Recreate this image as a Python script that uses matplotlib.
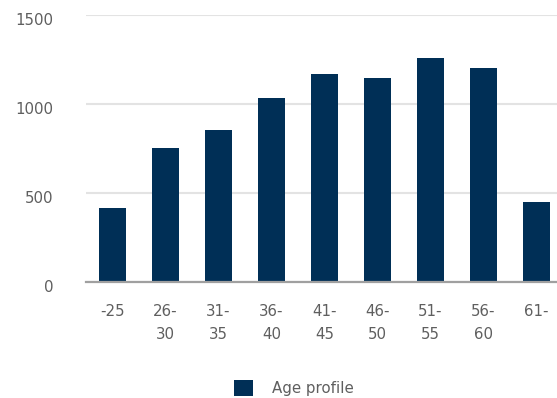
import matplotlib
matplotlib.use("Agg")
import matplotlib.pyplot as plt
import matplotlib.transforms as mtransforms

categories = ["-25", "26-\n30", "31-\n35", "36-\n40", "41-\n45", "46-\n50", "51-\n55", "56-\n60", "61-"]
values = [413, 750, 852, 1031, 1166, 1144, 1256, 1200, 447]
series_name = "Age profile"
yticks = [0, 500, 1000, 1500]

bar_color = "#002F56"
text_color = "#5F5F5F"

plt.rcParams['font.family'] = ['DejaVu Sans']

W, H = 557, 398
fs = 10.8
fig = plt.figure(figsize=(W / 100, H / 100), dpi=100)
ax = fig.add_axes([86 / W, 1 - 281.5 / H, 1 - 86 / W, (281.5 - 14.7) / H])

x = list(range(len(categories)))
ax.bar(x, values, width=0.51, color=bar_color, label=series_name, zorder=3)

ax.set_ylim(0, 1500)
ax.set_xlim(-0.5, -0.5 + (W - 86) / 53.0)
ax.set_yticks(yticks)
ax.set_yticklabels([str(t) for t in yticks])
ax.set_xticks(x)
ax.set_xticklabels(categories, linespacing=1.65, va="top")

ax.grid(axis="y", color="#E3E3E3", linewidth=1.5, zorder=0)
ax.set_axisbelow(True)
for s in ["top", "right", "left"]:
    ax.spines[s].set_visible(False)
ax.spines["bottom"].set_color("#A0A0A0")
ax.spines["bottom"].set_linewidth(1.6)
ax.spines["bottom"].set_zorder(4)

ax.tick_params(axis="both", length=0, colors=text_color, labelsize=fs)
ax.tick_params(axis="y", pad=33 * 0.72)
ax.tick_params(axis="x", pad=16.5)

offset = mtransforms.ScaledTranslation(0, -4 / 100, fig.dpi_scale_trans)
for lbl in ax.get_yticklabels():
    lbl.set_transform(lbl.get_transform() + offset)

leg = fig.legend(loc="center", bbox_to_anchor=(294 / W, 1 - 388 / H),
                 frameon=False, handlelength=1.25, handleheight=1.25,
                 handletextpad=1.3, fontsize=fs, labelcolor=text_color)

fig.savefig("out.png", dpi=100)
